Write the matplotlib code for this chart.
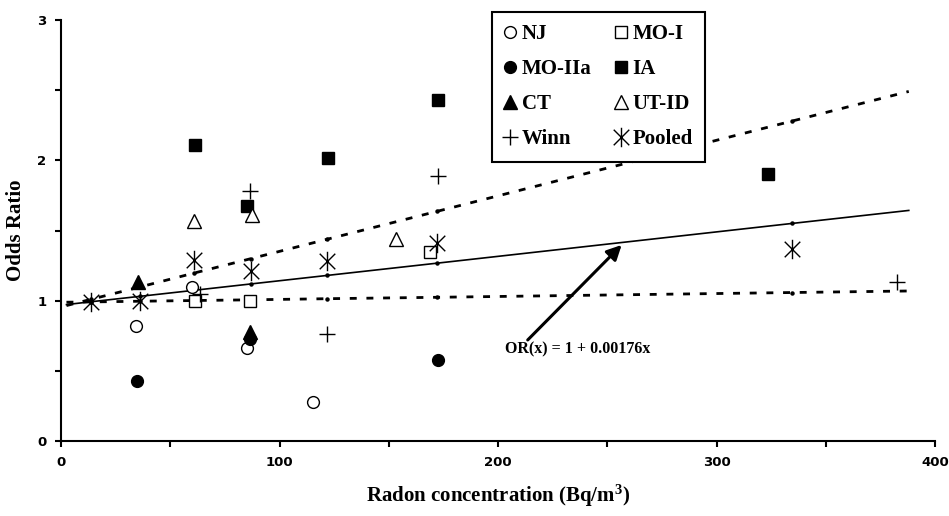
import matplotlib
matplotlib.use("Agg")
import matplotlib.pyplot as plt
from matplotlib.path import Path

# ---------------- data ----------------
nj_x = [34.2, 59.8, 85.0, 115.3]
nj_y = [0.82, 1.10, 0.66, 0.28]
moI_x = [61.3, 86.5, 169.0]
moI_y = [1.00, 1.00, 1.35]
moIIa_x = [34.6, 86.5, 172.4]
moIIa_y = [0.43, 0.73, 0.58]
ia_x = [61.3, 85.0, 122.2, 172.7, 323.7]
ia_y = [2.11, 1.675, 2.02, 2.43, 1.90]
ct_x = [35.4, 86.5]
ct_y = [1.135, 0.78]
ut_x = [61.0, 87.3, 153.3]
ut_y = [1.57, 1.61, 1.44]
winn_x = [63.6, 86.5, 121.6, 172.7, 382.7]
winn_y = [1.05, 1.78, 0.76, 1.89, 1.13]
pooled_x = [13.6, 36.2, 61.0, 86.8, 121.9, 172.0, 334.4]
pooled_y = [0.99, 1.00, 1.29, 1.21, 1.28, 1.41, 1.37]

# fitted line and confidence bounds
fit_x = [2.5, 13.6, 36.2, 61.0, 86.8, 121.9, 172.0, 334.4, 388.0]
fit_y = [0.972, 0.992, 1.031, 1.074, 1.119, 1.180, 1.267, 1.550, 1.643]
upper_y = [0.965, 1.009, 1.098, 1.197, 1.299, 1.438, 1.636, 2.279, 2.491]
lower_y = [0.989, 0.991, 0.996, 1.001, 1.006, 1.014, 1.024, 1.058, 1.069]

x_ticks = [0, 50, 100, 150, 200, 250, 300, 350, 400]
x_tick_labels = ["0", "", "100", "", "200", "", "300", "", "400"]
y_ticks = [0, 0.5, 1, 1.5, 2, 2.5, 3]
y_tick_labels = ["0", "", "1", "", "2", "", "3"]

annot_text = "OR(x) = 1 + 0.00176x"

# ---------------- style ----------------
plt.rcParams["mathtext.fontset"] = "custom"
plt.rcParams["mathtext.rm"] = "Liberation Serif:bold"
plt.rcParams["mathtext.bf"] = "Liberation Serif:bold"
plt.rcParams["mathtext.default"] = "bf"

serif = ["Liberation Serif", "DejaVu Serif"]

fig = plt.figure(figsize=(9.49, 5.16), dpi=100)
ax = fig.add_axes([61 / 949, 75 / 516, 874 / 949, 421 / 516])

# pooled asterisk marker: X plus vertical bar
ast = Path([(-0.8, -0.8), (0.8, 0.8), (-0.8, 0.8), (0.8, -0.8), (0, -1.0), (0, 1.0)],
           [Path.MOVETO, Path.LINETO, Path.MOVETO, Path.LINETO, Path.MOVETO, Path.LINETO])

# lines
ax.plot(fit_x, fit_y, color="black", lw=1.2, zorder=2,
        marker="o", ms=2.2, markevery=list(range(1, 8)))
ax.plot(fit_x, upper_y, color="black", lw=2.0, dashes=(2.5, 3.5), zorder=2,
        marker="o", ms=2.2, markevery=list(range(1, 8)))
ax.plot(fit_x, lower_y, color="black", lw=2.0, dashes=(2.5, 3.5), zorder=2,
        marker="o", ms=2.2, markevery=list(range(1, 8)))

h_nj, = ax.plot(nj_x, nj_y, ls="none", marker="o", ms=8.5, mfc="white", mec="black", mew=1.0, zorder=3)
h_moI, = ax.plot(moI_x, moI_y, ls="none", marker="s", ms=8.5, mfc="white", mec="black", mew=1.0, zorder=3)
h_moIIa, = ax.plot(moIIa_x, moIIa_y, ls="none", marker="o", ms=8.5, mfc="black", mec="black", zorder=3)
h_ia, = ax.plot(ia_x, ia_y, ls="none", marker="s", ms=9, mfc="black", mec="black", zorder=3)
h_ct, = ax.plot(ct_x, ct_y, ls="none", marker="^", ms=10, mfc="black", mec="black", zorder=3)
h_ut, = ax.plot(ut_x, ut_y, ls="none", marker="^", ms=10.5, mfc="white", mec="black", mew=1.0, zorder=3)
h_winn, = ax.plot(winn_x, winn_y, ls="none", marker="+", ms=11, mec="black", mew=1.0, zorder=3)
h_pool, = ax.plot(pooled_x, pooled_y, ls="none", marker=ast, ms=14, mec="black", mew=1.0, zorder=4)

# axes
ax.set_xlim(0, 400)
ax.set_ylim(0, 3)
ax.set_xticks(x_ticks)
ax.set_xticklabels(x_tick_labels)
ax.set_yticks(y_ticks)
ax.set_yticklabels(y_tick_labels)
for s in ["top", "right"]:
    ax.spines[s].set_visible(False)
for s in ["left", "bottom"]:
    ax.spines[s].set_linewidth(1.5)
ax.tick_params(direction="out", length=4.5, width=1.5, pad=6, colors="black")
for lab in ax.get_xticklabels() + ax.get_yticklabels():
    lab.set_fontfamily(["DejaVu Sans"])
    lab.set_fontweight("bold")
    lab.set_fontsize(9.5)

ax.set_ylabel("Odds Ratio", family=serif, fontweight="bold", fontsize=15)
ax.yaxis.set_label_coords(-0.040, 0.5)
fig.text(498.5 / 949, 1 - 502 / 516, "Radon concentration (Bq/m$^{3}$)",
         family=serif, fontweight="bold", fontsize=15, ha="center", va="baseline")

# annotation
ax.text(236.6, 0.65, annot_text, family=serif, fontweight="bold", fontsize=11.5,
        ha="center", va="center")
ax.annotate("", xy=(256.6, 1.397), xytext=(213.6, 0.72),
            arrowprops=dict(arrowstyle="-|>", lw=2.2, color="black",
                            mutation_scale=22, shrinkA=0, shrinkB=0))

# legend
handles = [h_nj, h_moIIa, h_ct, h_winn, h_moI, h_ia, h_ut, h_pool]
labels = ["NJ", "MO-IIa", "CT", "Winn", "MO-I", "IA", "UT-ID", "Pooled"]
leg = fig.legend(handles, labels, ncol=2, loc="upper left",
                 bbox_to_anchor=(491.7 / 949, 1 - 11.7 / 516),
                 borderaxespad=0, frameon=True, fancybox=False,
                 edgecolor="black", framealpha=1,
                 prop={"family": serif, "weight": "bold", "size": 15},
                 handlelength=0.6, handletextpad=0.25, labelspacing=0.72,
                 borderpad=0.6, columnspacing=1.1)
leg.get_frame().set_linewidth(1.5)

fig.savefig("out.png", dpi=100)
